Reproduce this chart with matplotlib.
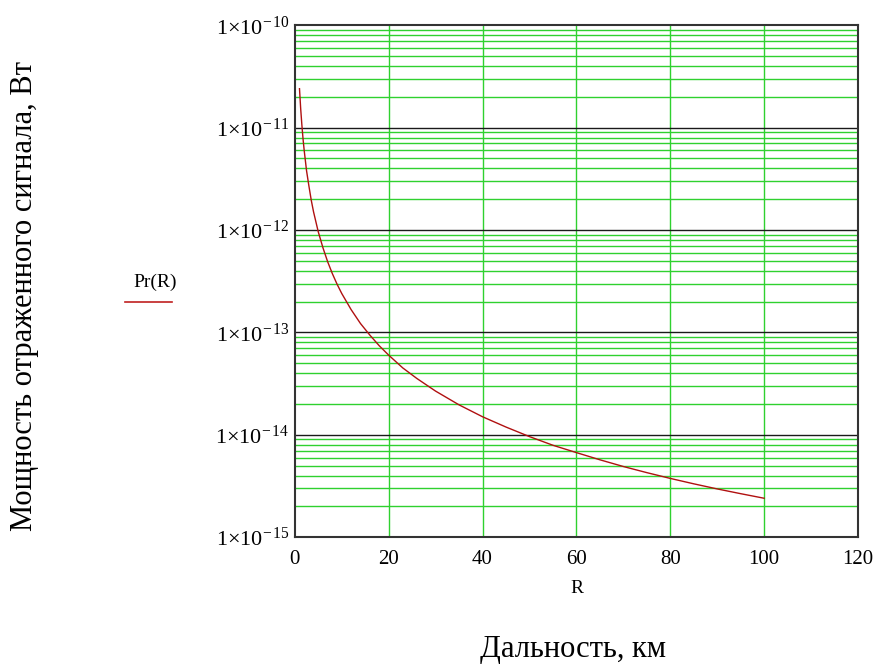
import math
import matplotlib
matplotlib.use("Agg")
import matplotlib.pyplot as plt
from matplotlib.ticker import FixedLocator, FuncFormatter, NullFormatter

plt.rcParams['font.family'] = ['Liberation Serif', 'DejaVu Serif']
plt.rcParams['mathtext.fontset'] = 'custom'
plt.rcParams['mathtext.rm'] = 'Liberation Serif'
plt.rcParams['mathtext.it'] = 'Liberation Serif:italic'

# range, km and reflected power, W
R_km = [1, 1.25, 1.5, 1.75, 2, 2.5, 3, 3.5, 4, 5, 6, 7, 8, 9, 10, 12, 14, 16, 18, 20,
        23, 26, 30, 35, 40, 45, 50, 55, 60, 65, 70, 75, 80, 85, 90, 95, 100]
Pr_w = [2.4e-11, 1.54e-11, 1.07e-11, 7.8e-12, 6.0e-12, 3.8e-12, 2.7e-12, 1.96e-12,
        1.5e-12, 9.6e-13, 6.7e-13, 4.9e-13, 3.75e-13, 2.96e-13, 2.4e-13, 1.67e-13,
        1.22e-13, 9.4e-14, 7.4e-14, 6.0e-14, 4.5e-14, 3.55e-14, 2.67e-14, 1.96e-14,
        1.5e-14, 1.19e-14, 9.6e-15, 7.9e-15, 6.7e-15, 5.7e-15, 4.9e-15, 4.27e-15,
        3.75e-15, 3.32e-15, 2.96e-15, 2.66e-15, 2.4e-15]

x_ticks = [0, 20, 40, 60, 80, 100, 120]
decades = [-15, -14, -13, -12, -11, -10]

GREEN = '#2fd12f'

fig = plt.figure(figsize=(8.8, 6.64), dpi=100)
ax = fig.add_axes([0.335, 0.191, 0.64, 0.771])

# grid: green minor lines, black decade lines
for d in decades[:-1]:
    for m in range(2, 10):
        ax.axhline(m * 10.0 ** d, color=GREEN, lw=1.0, zorder=1)
for d in decades[1:-1]:
    ax.axhline(10.0 ** d, color='#1a1a1a', lw=1.0, zorder=2)
for xv in x_ticks[1:-1]:
    ax.axvline(xv, color=GREEN, lw=1.0, zorder=1)

ax.plot(R_km, Pr_w, color='#b01010', lw=1.0, zorder=3)

ax.set_yscale('log')
ax.set_xlim(0, 120)
ax.set_ylim(1e-15, 1e-10)
ax.xaxis.set_major_locator(FixedLocator(x_ticks))
ax.yaxis.set_major_locator(FixedLocator([10.0 ** d for d in decades]))
ax.yaxis.set_minor_formatter(NullFormatter())
ax.yaxis.set_major_formatter(FuncFormatter(
    lambda v, p: r'$1{\times}10^{-\,%d}$' % round(-math.log10(v))))
ax.tick_params(axis='x', length=0, labelsize=15, pad=9)
ax.tick_params(axis='y', which='both', length=0, labelsize=16, pad=4)
for s in ax.spines.values():
    s.set_color('#333333')
    s.set_linewidth(1.5)

ax.set_xlabel('R', fontsize=14, labelpad=8)

# legend-like label on the left, Mathcad style
fig.text(155 / 880, 1 - 282 / 664, 'Pr(R)', fontsize=14, ha='center', va='center')
fig.add_artist(plt.Line2D([125 / 880, 172 / 880], [1 - 302 / 664, 1 - 302 / 664],
                          color='#c02020', lw=1.2))

fig.text(25 / 880, 1 - 296 / 664, 'Мощность отраженного сигнала, Вт', rotation=90,
         fontsize=22, ha='center', va='center')
fig.text(573 / 880, 1 - 649 / 664, 'Дальность, км', fontsize=22,
         ha='center', va='center')

fig.savefig('out.png', dpi=100, facecolor='white')
